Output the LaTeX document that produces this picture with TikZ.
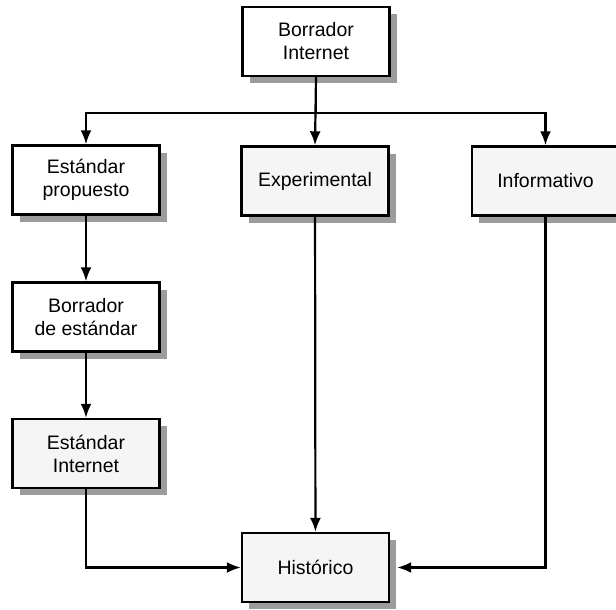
\documentclass[tikz,border=0pt]{standalone}
\usepackage{fontspec}
\setmainfont{Liberation Sans}
\usetikzlibrary{arrows.meta,shadows}
\begin{document}
\begin{tikzpicture}[x=1pt,y=-1pt,
  box/.style={draw=black, line width=2.4pt, fill=white, minimum width=147pt, minimum height=69pt,
    align=center, font=\fontsize{19.5}{23}\selectfont, inner sep=0pt,
    drop shadow={shadow xshift=7pt, shadow yshift=-7pt, fill=gray!78, opacity=1}},
  boxg/.style={box, fill=gray!8},
  conn/.style={line width=2.2pt, -{Latex[length=14pt,width=11pt]}},
  plain/.style={line width=2.2pt}
]
\useasboundingbox (0,0) rectangle (616,610);

\node[box]  (bi) at (316,41.5) {Borrador\\Internet};
\node[box]  (ep) at (86,180)   {Estándar\\propuesto};
\node[boxg] (ex) at (315,181)  {Experimental};
\node[boxg] (in) at (545.5,181) {Informativo};
\node[box]  (be) at (86,317)   {Borrador\\de estándar};
\node[boxg] (ei) at (86,453.5) {Estándar\\Internet};
\node[boxg] (hi) at (315.5,567.5) {Histórico};

\coordinate (j) at (bi.south |- 0,113);
\draw[plain] (bi.south) -- (j);
\draw[conn] (bi.south) -- (ex.north);
\draw[conn] (j) -| (ep.north);
\draw[conn] (j) -| (in.north);
\draw[conn] (ep) -- (be);
\draw[conn] (be) -- (ei);
\draw[conn] (ex) -- (hi);
\draw[conn] (ei.south) |- (hi.west);
\draw[conn] (in.south) |- ([xshift=7pt]hi.east);
\end{tikzpicture}
\end{document}
